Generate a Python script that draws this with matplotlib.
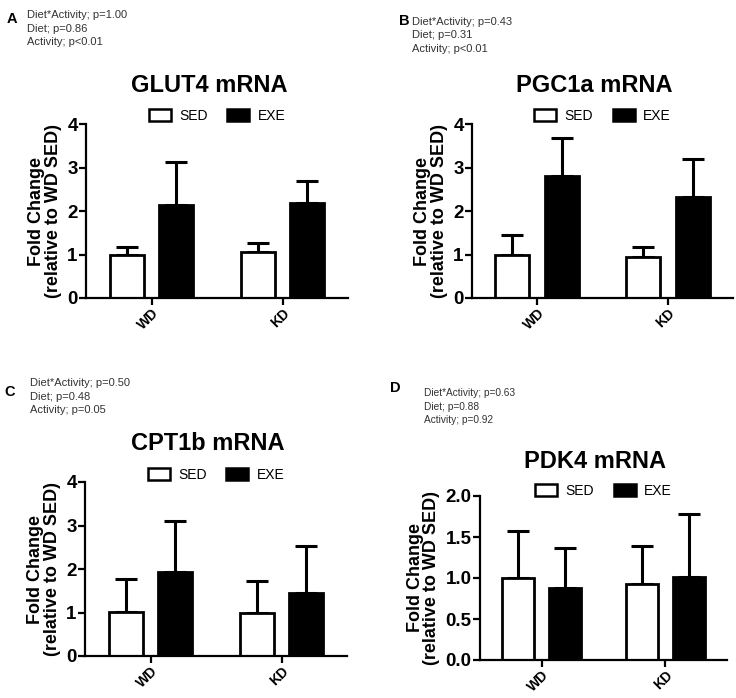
import matplotlib
matplotlib.use('Agg')
import matplotlib.pyplot as plt
import numpy as np
from matplotlib.patches import Patch

plt.rcParams['font.family'] = ['Liberation Sans', 'DejaVu Sans']

# data
groups = ['WD', 'KD']
series = ['SED', 'EXE']

glut4_sed = [1.00, 1.05]
glut4_sed_err = [0.18, 0.21]
glut4_exe = [2.13, 2.18]
glut4_exe_err = [1.00, 0.51]

pgc1a_sed = [1.00, 0.94]
pgc1a_sed_err = [0.45, 0.24]
pgc1a_exe = [2.80, 2.32]
pgc1a_exe_err = [0.87, 0.87]

cpt1b_sed = [1.02, 1.00]
cpt1b_sed_err = [0.75, 0.72]
cpt1b_exe = [1.93, 1.45]
cpt1b_exe_err = [1.17, 1.07]

pdk4_sed = [1.00, 0.93]
pdk4_sed_err = [0.57, 0.46]
pdk4_exe = [0.88, 1.01]
pdk4_exe_err = [0.48, 0.77]

stats_a = ['Diet*Activity; p=1.00', 'Diet; p=0.86', 'Activity; p<0.01']
stats_b = ['Diet*Activity; p=0.43', 'Diet; p=0.31', 'Activity; p<0.01']
stats_c = ['Diet*Activity; p=0.50', 'Diet; p=0.48', 'Activity; p=0.05']
stats_d = ['Diet*Activity; p=0.63', 'Diet; p=0.88', 'Activity; p=0.92']

W, H = 736, 698
fig = plt.figure(figsize=(W / 100, H / 100), dpi=100)


def px_axes(x0, y0, x1, y1):
    # pixel box (top-left origin) -> figure axes
    return fig.add_axes([x0 / W, 1 - y1 / H, (x1 - x0) / W, (y1 - y0) / H])


def panel(box, title, sed, sed_err, exe, exe_err, ymax, yticks, yfmt,
          title_y, leg_y, letter, letter_xy, stats, stats_xy, stats_size=8):
    ax = px_axes(*box)
    x = np.arange(len(groups))
    w = 0.26
    off = 0.19
    ax.bar(x - off, sed, w, color='white', edgecolor='black', linewidth=2, zorder=2)
    ax.bar(x + off, exe, w, color='black', edgecolor='black', linewidth=2, zorder=2)
    ax.errorbar(x - off, sed, yerr=[np.zeros(len(sed)), sed_err], fmt='none',
                ecolor='black', elinewidth=2.2, capsize=8, capthick=2.2, zorder=1)
    ax.errorbar(x + off, exe, yerr=[np.zeros(len(exe)), exe_err], fmt='none',
                ecolor='black', elinewidth=2.2, capsize=8, capthick=2.2, zorder=1)
    ax.set_xlim(-0.5, 1.5)
    ax.set_ylim(0, ymax)
    ax.set_yticks(yticks)
    ax.set_yticklabels([yfmt.format(v) for v in yticks], fontsize=13.5, fontweight='bold')
    ax.set_xticks(x)
    ax.set_xticklabels(groups, rotation=45, fontsize=10, fontweight='bold',
                       ha='right', va='top', rotation_mode='anchor')
    for s in ['top', 'right']:
        ax.spines[s].set_visible(False)
    for s in ['left', 'bottom']:
        ax.spines[s].set_linewidth(1.6)
    ax.tick_params(axis='both', width=1.6, length=5, pad=1)
    ax.set_ylabel('Fold Change\n(relative to WD SED)', fontsize=13, fontweight='bold',
                  linespacing=0.95, labelpad=4)
    xc = (box[0] + box[2]) / 2
    fig.text((xc - 8) / W, 1 - title_y / H, title, fontsize=17, fontweight='bold',
             ha='center', va='center')
    handles = [Patch(facecolor='white', edgecolor='black', linewidth=1.8),
               Patch(facecolor='black', edgecolor='black', linewidth=1.8)]
    ax.legend(handles, series, ncol=2, frameon=False, fontsize=10,
              loc='center', bbox_to_anchor=(xc / W, 1 - leg_y / H),
              bbox_transform=fig.transFigure,
              handlelength=1.6, handleheight=0.9, columnspacing=1.4, handletextpad=0.6)
    fig.text(letter_xy[0] / W, 1 - letter_xy[1] / H, letter, fontsize=10.5,
             fontweight='bold', ha='center', va='center')
    for i, line in enumerate(stats):
        fig.text(stats_xy[0] / W, 1 - (stats_xy[1] + i * 13.5) / H, line,
                 fontsize=stats_size, color='#333333', ha='left', va='center')
    return ax


panel((86, 124, 348, 298), 'GLUT4 mRNA', glut4_sed, glut4_sed_err, glut4_exe, glut4_exe_err,
      4, [0, 1, 2, 3, 4], '{:g}', 85, 116, 'A', (12, 19), stats_a, (27, 15))
panel((472, 124, 733, 298), 'PGC1a mRNA', pgc1a_sed, pgc1a_sed_err, pgc1a_exe, pgc1a_exe_err,
      4, [0, 1, 2, 3, 4], '{:g}', 85, 116, 'B', (404, 21), stats_b, (412, 22))
panel((85, 482, 347, 656), 'CPT1b mRNA', cpt1b_sed, cpt1b_sed_err, cpt1b_exe, cpt1b_exe_err,
      4, [0, 1, 2, 3, 4], '{:g}', 444, 475, 'C', (10, 392), stats_c, (30, 383))
panel((480, 496, 727, 660), 'PDK4 mRNA', pdk4_sed, pdk4_sed_err, pdk4_exe, pdk4_exe_err,
      2, [0, 0.5, 1.0, 1.5, 2.0], '{:.1f}', 461, 491, 'D', (395, 388), stats_d, (424, 393),
      stats_size=7.3)

fig.savefig('out.png', dpi=100)
